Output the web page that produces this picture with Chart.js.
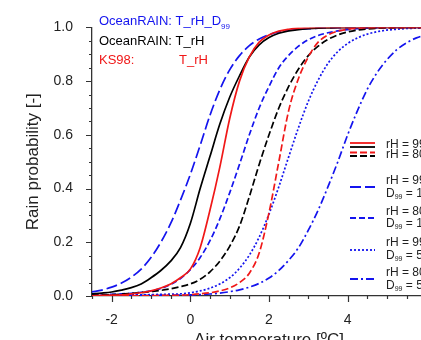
<!DOCTYPE html>
<html>
<head>
<meta charset="utf-8">
<script src="https://cdn.jsdelivr.net/npm/chart.js@4.4.0/dist/chart.umd.min.js"></script>
<style>
  html, body { margin: 0; padding: 0; background: #fff; }
  #wrap { width: 421px; height: 340px; overflow: hidden; }
  canvas { display: block; }
</style>
</head>
<body>
<div id="wrap"><canvas id="chart" width="460" height="360"></canvas></div>
<script>
// air temperature grid (deg C)
const xValues = [-2.5, -2.25, -2, -1.75, -1.5, -1.25, -1, -0.75, -0.5, -0.25, 0, 0.25, 0.5, 0.75, 1, 1.25, 1.5, 1.75,
  2, 2.25, 2.5, 2.75, 3, 3.25, 3.5, 3.75, 4, 4.25, 4.5, 4.75, 5, 5.25, 5.5, 5.75, 6, 6.25, 6.5]

// KS98 (red)
const ks98RH99 = [0.001, 0.002, 0.003, 0.004, 0.008, 0.012, 0.019, 0.03, 0.045, 0.068, 0.10, 0.18, 0.32, 0.48, 0.66, 0.80, 0.89, 0.945,
  0.972, 0.986, 0.993, 0.997, 0.999, 1, 1, 1, 1, 1, 1, 1, 1, 1, 1, 1, 1, 1, 1]
const ks98RH80 = [0, 0, 0.001, 0.001, 0.001, 0.001, 0.001, 0.002, 0.002, 0.003, 0.005, 0.008, 0.012, 0.019, 0.03, 0.05, 0.085, 0.16,
  0.31, 0.50, 0.69, 0.81, 0.89, 0.945, 0.972, 0.986, 0.993, 0.997, 0.999, 1, 1, 1, 1, 1, 1, 1, 1]

// OceanRAIN T_rH (black)
const oceanRH99 = [0.008, 0.011, 0.015, 0.022, 0.031, 0.045, 0.068, 0.095, 0.13, 0.18, 0.27, 0.40, 0.52, 0.64, 0.74, 0.82, 0.89, 0.935,
  0.962, 0.978, 0.987, 0.992, 0.995, 0.997, 0.998, 0.999, 0.999, 1, 1, 1, 1, 1, 1, 1, 1, 1, 1]
const oceanRH80 = [0.003, 0.004, 0.005, 0.007, 0.01, 0.013, 0.017, 0.021, 0.027, 0.035, 0.045, 0.062, 0.09, 0.13, 0.185, 0.26, 0.37, 0.49,
  0.60, 0.70, 0.78, 0.845, 0.895, 0.93, 0.955, 0.972, 0.983, 0.99, 0.994, 0.997, 0.998, 0.999, 1, 1, 1, 1, 1]

// OceanRAIN T_rH_D99 (blue)
const oceanRH99D1 = [0.015, 0.022, 0.033, 0.048, 0.07, 0.10, 0.143, 0.20, 0.27, 0.357, 0.453, 0.561, 0.673, 0.768, 0.842, 0.895, 0.932, 0.957,
  0.973, 0.983, 0.989, 0.993, 0.995, 0.997, 0.998, 0.999, 0.999, 1, 1, 1, 1, 1, 1, 1, 1, 1, 1]
const oceanRH80D1 = [0.004, 0.005, 0.006, 0.008, 0.01, 0.014, 0.019, 0.028, 0.043, 0.065, 0.098, 0.143, 0.206, 0.287, 0.384, 0.49, 0.60, 0.70,
  0.78, 0.85, 0.896, 0.93, 0.954, 0.97, 0.98, 0.987, 0.992, 0.995, 0.997, 0.998, 0.999, 0.999, 1, 1, 1, 1, 1]
const oceanRH99D5 = [0.002, 0.002, 0.003, 0.003, 0.004, 0.004, 0.005, 0.006, 0.007, 0.008, 0.012, 0.019, 0.029, 0.045, 0.068, 0.103, 0.152, 0.219,
  0.305, 0.407, 0.518, 0.627, 0.725, 0.804, 0.866, 0.91, 0.94, 0.961, 0.975, 0.984, 0.99, 0.993, 0.996, 0.997, 0.998, 0.999, 0.999]
const oceanRH80D5 = [0.001, 0.001, 0.001, 0.001, 0.002, 0.002, 0.002, 0.002, 0.003, 0.003, 0.004, 0.005, 0.0075, 0.011, 0.016, 0.023, 0.033, 0.047,
  0.067, 0.095, 0.133, 0.18, 0.245, 0.32, 0.407, 0.5, 0.6, 0.69, 0.77, 0.832, 0.88, 0.917, 0.943, 0.961, 0.973, 0.982, 0.988]

const yTicks = [0, 0.2, 0.4, 0.6, 0.8, 1.0]
const yMinorTicks = [0, 0.05, 0.1, 0.15, 0.2, 0.25, 0.3, 0.35, 0.4, 0.45, 0.5, 0.55, 0.6, 0.65, 0.7, 0.75, 0.8, 0.85, 0.9, 0.95, 1]
const xTicks = [-2, 0, 2, 4, 6]
const xMinorTicks = [-2.5, -2, -1.5, -1, -0.5, 0, 0.5, 1, 1.5, 2, 2.5, 3, 3.5, 4, 4.5, 5, 5.5, 6, 6.5]

const RED = "#f01818"
const BLUE = "#1414ee"
const BLACK = "#000000"
const FONT = "'Liberation Sans', Arial, Helvetica, sans-serif"

const styles = {
  solid: [],
  dash: [7, 3],
  longDash: [11, 4],
  shortDash: [6, 3],
  dot: [2, 2],
  dashDot: [8, 3, 2, 3]
}

const toPoints = arr => arr.map((v, i) => ({ x: xValues[i], y: v }))

function line(label, data, color, dash) {
  return {
    label,
    data: toPoints(data),
    borderColor: color,
    borderWidth: 1.7,
    borderDash: dash,
    pointRadius: 0,
    fill: false,
    cubicInterpolationMode: "monotone"
  }
}

const datasets = [
  line("KS98 rH=99", ks98RH99, RED, styles.solid),
  line("KS98 rH=80", ks98RH80, RED, styles.dash),
  line("OceanRAIN rH=99", oceanRH99, BLACK, styles.solid),
  line("OceanRAIN rH=80", oceanRH80, BLACK, styles.dash),
  line("rH=99 D99=1", oceanRH99D1, BLUE, styles.longDash),
  line("rH=80 D99=1", oceanRH80D1, BLUE, styles.shortDash),
  line("rH=99 D99=5", oceanRH99D5, BLUE, styles.dot),
  line("rH=80 D99=5", oceanRH80D5, BLUE, styles.dashDot)
]

// legend rows: line(s) with style, text lines
const legendRows = [
  { lines: [[RED, styles.solid, 143], [BLACK, styles.solid, 147]], text: [["rH = 99%", null, "", 145]] },
  { lines: [[RED, styles.dash, 152.5], [BLACK, styles.dash, 156]], text: [["rH = 80%", null, "", 154.5]] },
  { lines: [[BLUE, styles.longDash, 187]], text: [["rH = 99%", null, "", 181], ["D", "99", " = 1 mm", 194]] },
  { lines: [[BLUE, styles.shortDash, 218]], text: [["rH = 80%", null, "", 212], ["D", "99", " = 1 mm", 224]] },
  { lines: [[BLUE, styles.dot, 250]], text: [["rH = 99%", null, "", 243], ["D", "99", " = 5 mm", 256]] },
  { lines: [[BLUE, styles.dashDot, 279]], text: [["rH = 80%", null, "", 272.5], ["D", "99", " = 5 mm", 286]] }
]

function subText(ctx, x, y, size, base, sub, rest) {
  ctx.font = size + "px " + FONT
  ctx.fillText(base, x, y)
  x += ctx.measureText(base).width
  if (sub) {
    const s = Math.round(size * 0.62)
    ctx.font = s + "px " + FONT
    ctx.fillText(sub, x, y + size * 0.28)
    x += ctx.measureText(sub).width
    ctx.font = size + "px " + FONT
  }
  if (rest) ctx.fillText(rest, x, y)
}

const decorations = {
  id: "decorations",
  afterDraw(chart) {
    const { ctx, chartArea: { left, bottom } } = chart
    const xs = chart.scales.x, ys = chart.scales.y
    ctx.save()
    // tick marks (outward)
    ctx.strokeStyle = "#333"
    ctx.lineWidth = 1.2
    ctx.beginPath()
    yMinorTicks.forEach(v => {
      const y = Math.round(ys.getPixelForValue(v)) + 0.5
      const len = yTicks.some(t => Math.abs(t - v) < 1e-6) ? 6 : 3
      ctx.moveTo(left, y); ctx.lineTo(left - len, y)
    })
    xMinorTicks.forEach(v => {
      const x = Math.round(xs.getPixelForValue(v)) + 0.5
      const len = xTicks.includes(v) ? 6 : 3
      ctx.moveTo(x, bottom); ctx.lineTo(x, bottom + len)
    })
    ctx.stroke()

    // header texts
    ctx.textBaseline = "alphabetic"
    ctx.fillStyle = BLUE
    subText(ctx, 99, 25, 13, "OceanRAIN: T_rH_D", "99", "")
    ctx.fillStyle = BLACK
    subText(ctx, 99, 45, 13, "OceanRAIN: T_rH", null, "")
    ctx.fillStyle = RED
    subText(ctx, 99, 64, 13, "KS98:", null, "")
    subText(ctx, 179, 64, 13, "T_rH", null, "")

    // legend
    ctx.textBaseline = "middle"
    legendRows.forEach(row => {
      row.lines.forEach(([color, dash, y]) => {
        ctx.strokeStyle = color
        ctx.lineWidth = 1.8
        ctx.setLineDash(dash)
        ctx.beginPath()
        ctx.moveTo(350, y); ctx.lineTo(375, y)
        ctx.stroke()
      })
      ctx.setLineDash([])
      ctx.fillStyle = "#222"
      row.text.forEach(([base, sub, rest, y]) => subText(ctx, 386, y, 12, base, sub, rest))
    })
    ctx.restore()
  }
}

new Chart(document.getElementById("chart"), {
  type: "line",
  data: { datasets },
  plugins: [decorations],
  options: {
    responsive: false,
    animation: false,
    devicePixelRatio: 1,
    layout: { padding: { left: 0, top: 12, right: 14, bottom: 0 } },
    plugins: { legend: { display: false }, tooltip: { enabled: false } },
    scales: {
      x: {
        type: "linear",
        min: -2.5,
        max: 6.5,
        afterBuildTicks: s => { s.ticks = xTicks.map(v => ({ value: v })) },
        afterFit: s => { s.height = 64 },
        grid: { display: false, drawTicks: false },
        border: { display: true, color: "#333", width: 1.3 },
        ticks: { color: "#222", padding: 16, font: { size: 14, family: FONT }, maxRotation: 0 },
        title: { display: true, text: "Air temperature [ºC]", color: "#222", font: { size: 17, family: FONT }, padding: { top: 0, bottom: 9 } }
      },
      y: {
        min: 0,
        max: 1,
        afterBuildTicks: s => { s.ticks = yTicks.map(v => ({ value: v })) },
        afterFit: s => { s.width = 92 },
        grid: { display: false, drawTicks: false },
        border: { display: true, color: "#333", width: 1.3 },
        ticks: { color: "#222", padding: 19, font: { size: 14, family: FONT }, callback: v => v.toFixed(1) },
        title: { display: true, text: "Rain probability [-]", color: "#222", font: { size: 17, family: FONT }, padding: { top: 23, bottom: 0 } }
      }
    }
  }
})
</script>
</body>
</html>
